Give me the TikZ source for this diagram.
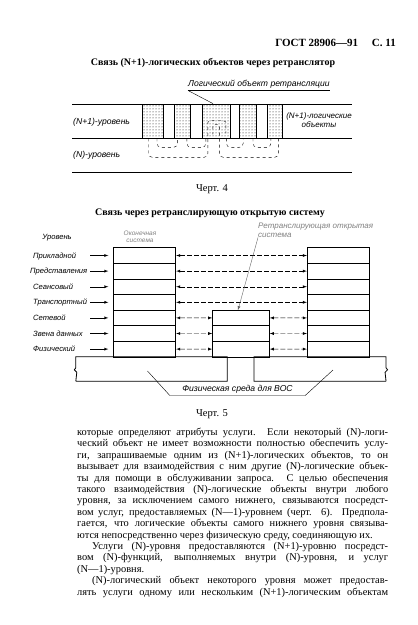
\documentclass[tikz,border=0pt]{standalone}
\usepackage{fontspec}
\setmainfont{Liberation Serif}
\newfontfamily\drawfont{Liberation Sans}
\usetikzlibrary{arrows,positioning,calc,patterns}
\tikzset{
	>=latex,
	pagehead/.style={font=\bfseries\fontsize{11}{13}\selectfont, inner sep=0pt},
	%
	heading/.style={font=\bfseries\fontsize{10}{12}\selectfont, inner sep=0pt},
	%
	caption/.style={font=\fontsize{10.5}{12}\selectfont, inner sep=0pt},
	%
	sketch/.style={font=\drawfont\itshape\fontsize{7.6}{9}\selectfont, inner sep=0pt},
	%
	bigsketch/.style={sketch, font=\drawfont\itshape\fontsize{8.6}{9.2}\selectfont},
	%
	faint/.style={sketch, text=black!50, font=\drawfont\itshape\fontsize{6.5}{7.5}\selectfont},
	%
	levelline/.style={line width=0.9pt},
	%
	relaybox/.style={
		rectangle, draw, thick, pattern=dots, minimum height=34pt, inner sep=0pt
	},
	%
	loopline/.style={dashed, thin, rounded corners=4pt},
	%
	layer/.style={
		rectangle, draw, thick, minimum height=15.6pt, inner sep=0pt, outer sep=0pt
	},
	%
	into/.style={->, thin, shorten >=5pt},
	%
	peer/.style={<->, thin, dash pattern=on 5pt off 2pt, shorten <=0.5pt, shorten >=0.5pt}
}
\begin{document}
\begin{tikzpicture}[x=1pt, y=-1pt]
    \useasboundingbox (0,0) rectangle (418,625);
    \node(head)[pagehead, anchor=base east] at (396,46) {ГОСТ 28906—91\quad\ С. 11};
    \node(title4)[heading, anchor=base] at (213,65) {Связь (N+1)-логических объектов через ретранслятор};
    % Черт. 4
    \coordinate(nw) at (72,104); \coordinate(ne) at (352,104);
    \coordinate(mw) at (72,138); \coordinate(me) at (352,138);
    \coordinate(sw) at (72,172); \coordinate(se) at (352,172);
    \draw[levelline] (nw) -- (ne);
    \draw[levelline] (mw) -- (me);
    \draw[levelline] (sw) -- (se);
    \node(b1)[relaybox, minimum width=20.6pt] at (153,121){};
    \node(b2)[relaybox, minimum width=16.2pt] at (182.4,121){};
    \node(b3)[relaybox, minimum width=27.3pt] at (216.4,121){};
    \node(b4)[relaybox, minimum width=17pt] at (248.2,121){};
    \node(b5)[relaybox, minimum width=14.7pt] at (274.9,121){};
    \draw[loopline] ($(b1.south)+(4,0)$) |- ($(b2.south)+(-5,9)$) -- ($(b2.south)+(-5,0)$);
    \draw[loopline] ($(b2.south)+(4.5,0)$) |- ($(b3.south)+(-10.5,9)$) -- ($(b3.south)+(-10.5,0)$);
    \draw[loopline] ($(b3.south)+(10,0)$) |- ($(b4.south)+(-5,9)$) -- ($(b4.south)+(-5,0)$);
    \draw[loopline] ($(b4.south)+(4.8,0)$) |- ($(b5.south)+(-4,9)$) -- ($(b5.south)+(-4,0)$);
    \draw[loopline] ($(b1.south)+(-4.5,0)$) |- ($(b3.south)+(-8.5,19)$) -- ($(b3.south)+(-8.5,-12)$)
        .. controls +(0,-7) and +(0,-7) .. ($(b3.south)+(9.5,-12)$) -- ($(b3.south)+(9.5,-5)$);
    \draw[loopline] ($(b5.south)+(3.5,0)$) |- ($(b3.south)+(3,19)$) -- ($(b3.south)+(3,-9)$)
        .. controls +(0,-5) and +(0,-5) .. ($(b3.south)+(-3.5,-9)$) -- ($(b3.south)+(-3.5,-4)$);
    \node(lor)[bigsketch, anchor=base west, inner ysep=2pt] at (188,86.5) {Логический объект ретрансляции};
    \draw[thin] (lor.south west) -- (lor.south east);
    \draw[thin] (lor.south west) -- ([xshift=-3.4pt]b3.north);
    \node(upper)[bigsketch, anchor=base west] at (73,124) {(N+1)-уровень};
    \node(lower)[bigsketch, anchor=base west] at (73,157) {(N)-уровень};
    \node(ents)[bigsketch, font=\drawfont\itshape\fontsize{8}{9}\selectfont, align=center] at (319,120) {(N+1)-логические\\объекты};
    \node(cap4)[caption, anchor=base] at (212,191) {Черт. 4};
    % Черт. 5
    \node(title5)[heading, anchor=base] at (210,215) {Связь через ретранслирующую открытую систему};
    \node(l1)[layer, minimum width=62.4pt] at (144.5,255.5){};
    \node(r1)[layer, minimum width=61.7pt] at (338.2,255.5){};
    \foreach \i [count=\j from 2] in {1,...,6}{
        \node(l\j)[layer, minimum width=62.4pt, below=0pt of l\i]{};
        \node(r\j)[layer, minimum width=61.7pt, below=0pt of r\i]{};
    }
    \node(m1)[layer, minimum width=56.6pt] at (241,317.9){};
    \node(m2)[layer, minimum width=56.6pt, below=0pt of m1]{};
    \node(m3)[layer, minimum width=56.6pt, below=0pt of m2]{};
    \node(lvl)[sketch, anchor=base] at (57,239) {Уровень};
    \node(lv1)[sketch, anchor=base west] at (33,258) {Прикладной};
    \node(lv2)[sketch, anchor=base west] at (30,273.6) {Представления};
    \node(lv3)[sketch, anchor=base west] at (33,289.2) {Сеансовый};
    \node(lv4)[sketch, anchor=base west] at (33,304.8) {Транспортный};
    \node(lv5)[sketch, anchor=base west] at (33,320.4) {Сетевой};
    \node(lv6)[sketch, anchor=base west] at (33,336) {Звена данных};
    \node(lv7)[sketch, anchor=base west] at (33,351.6) {Физический};
    \coordinate(arrx) at (90,0);
    \foreach \i in {1,...,7}{
        \draw[into] (l\i.west -| arrx) -- (l\i.west);
    }
    \foreach \i in {1,...,4}{
        \draw[peer] (l\i.east) -- (r\i.west);
    }
    \draw[peer] (l5.east) -- (m1.west);
    \draw[peer] (l6.east) -- (m2.west);
    \draw[peer] (l7.east) -- (m3.west);
    \draw[peer] (m1.east) -- (r5.west);
    \draw[peer] (m2.east) -- (r6.west);
    \draw[peer] (m3.east) -- (r7.west);
    \node(endsys)[faint, align=center] at (140,237) {Оконечная\\система};
    \node(relay)[faint, font=\drawfont\itshape\fontsize{8}{8.5}\selectfont, align=left, anchor=north west]
        at (258,223) {Ретранслирующая открытая\\система};
    \draw[->, thin, black!60] (relay.south west) -- ([xshift=-3pt]m1.north);
    % физическая среда
    \node(pbl)[rectangle, minimum width=151pt, minimum height=24pt, inner sep=0pt] at (151.5,369){};
    \node(pbr)[rectangle, minimum width=131.7pt, minimum height=24pt, inner sep=0pt] at (320,369){};
    \draw[thick] (pbl.south west) -- (pbl.south east) -- (pbl.north east) -- (pbl.north west)
        -- ($(pbl.north west)!0.45!(pbl.south west)$) -- ++(-1.5,2) -- ++(2.5,2.5) -- (pbl.south west);
    \draw[thick] (pbr.south east) -- (pbr.south west) -- (pbr.north west) -- (pbr.north east)
        -- ($(pbr.north east)!0.45!(pbr.south east)$) -- ++(1.5,2) -- ++(-2.5,2.5) -- (pbr.south east);
    \node(phys)[bigsketch, minimum width=135pt, inner ysep=2.5pt, anchor=base] at (237.5,391) {Физическая среда для ВОС};
    \draw[thin] ($(pbl.center)+(-4,2)$) -- (phys.south west) -- (phys.south east) -- ($(pbr.center)+(13,1)$);
    \node(cap5)[caption, anchor=base] at (212,416) {Черт. 5};
    % текст
    \node(body)[anchor=base west, inner sep=0pt, text width=311pt, align=justify,
        font=\fontsize{10.4}{11.4}\selectfont] at (77,435.5) {%
которые определяют атрибуты услуги. Если некоторый (N)-логи-\linebreak
ческий объект не имеет возможности полностью обеспечить услу-\linebreak
ги, запрашиваемые одним из (N+1)-логических объектов, то он\linebreak
вызывает для взаимодействия с ним другие (N)-логические объек-\linebreak
ты для помощи в обслуживании запроса. С целью обеспечения\linebreak
такого взаимодействия (N)-логические объекты внутри любого\linebreak
уровня, за исключением самого нижнего, связываются посредст-\linebreak
вом услуг, предоставляемых (N—1)-уровнем (черт. 6). Предпола-\linebreak
гается, что логические объекты самого нижнего уровня связыва-\linebreak
ются непосредственно через физическую среду, соединяющую их.\par
\hspace*{15pt}Услуги (N)-уровня предоставляются (N+1)-уровню посредст-\linebreak
вом (N)-функций, выполняемых внутри (N)-уровня, и услуг\linebreak
(N—1)-уровня.\par
{\parfillskip=0pt
\hspace*{15pt}(N)-логический объект некоторого уровня может предостав-\linebreak
лять услуги одному или нескольким (N+1)-логическим объектам\par}};
\end{tikzpicture}
\end{document}
